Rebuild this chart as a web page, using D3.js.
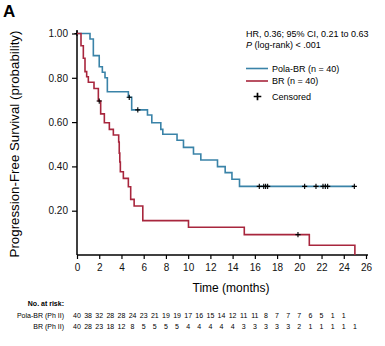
<!DOCTYPE html>
<html>
<head>
<meta charset="utf-8">
<script src="https://cdn.jsdelivr.net/npm/d3@7"></script>
<style>
	body { margin: 0; background: #fff; }
	svg { font-family: "Liberation Sans", Arial, sans-serif; }
</style>
</head>
<body>
<div id="chart"></div>
<script>
// Kaplan-Meier steps (time in months, survival after the step)
var polaTimes = [0, 1.17, 1.47, 2.0, 2.28, 2.52, 2.73, 4.62, 4.92, 6.34, 6.73, 7.54, 7.72, 9.0, 9.58, 10.48, 11.14, 12.64, 13.33, 13.94, 14.62, 25];
var polaSurv  = [1, 0.975, 0.90, 0.85, 0.825, 0.80, 0.737, 0.712, 0.655, 0.632, 0.597, 0.567, 0.545, 0.518, 0.486, 0.456, 0.429, 0.399, 0.372, 0.342, 0.31, 0.31];
var polaCensT = [0, 4.7, 5.47, 16.4, 16.8, 16.97, 17.15, 20.48, 21.5, 22.13, 22.34, 22.55, 24.95];

var brTimes = [0, 0.36, 0.57, 0.72, 0.87, 1.02, 1.53, 1.92, 2.13, 2.46, 2.91, 3.27, 3.75, 3.8, 3.85, 3.9, 4.17, 4.62, 4.83, 5.14, 5.92, 10.03, 15.05, 20.9, 25];
var brSurv  = [1, 0.945, 0.888, 0.828, 0.805, 0.78, 0.752, 0.695, 0.637, 0.597, 0.567, 0.542, 0.51, 0.46, 0.42, 0.376, 0.346, 0.308, 0.251, 0.221, 0.155, 0.125, 0.092, 0.044, 0];
var brCensT = [2.0, 19.88];

var xTicks = d3.range(0, 27, 2);
var yTicks = [0.2, 0.4, 0.6, 0.8, 1.0];

var riskPola = [40, 38, 32, 28, 28, 24, 23, 21, 19, 19, 17, 16, 15, 14, 12, 11, 11, 8, 7, 7, 7, 6, 5, 1, 1];
var riskBR   = [40, 28, 23, 18, 12, 8, 5, 5, 5, 5, 4, 4, 4, 4, 4, 3, 3, 3, 3, 3, 2, 1, 1, 1, 1, 1];

var blue = '#3a83a8';
var red = '#a8263d';

var chart = {
	svg : null,
	x : null,
	y : null,
	init : function(elem){
		this.svg = d3.select(elem).append('svg')
			.attr('width', 385)
			.attr('height', 346);
		this.x = d3.scaleLinear().domain([0, 26]).range([77, 366]);
		this.y = d3.scaleLinear().domain([0, 1]).range([255, 33.5]);
		this.drawAxes();
		this.drawCurve(polaTimes, polaSurv, polaCensT, blue);
		this.drawCurve(brTimes, brSurv, brCensT, red);
		this.drawText();
		this.drawRisk();
	},
	stepAt : function(times, surv, t){
		var i = d3.bisectRight(times, t) - 1;
		return surv[Math.max(i, 0)];
	},
	plus : function(g, cx, cy, r, w){
		g.append('path')
			.attr('d', 'M' + (cx - r) + ',' + cy + 'H' + (cx + r) + 'M' + cx + ',' + (cy - r) + 'V' + (cy + r))
			.attr('stroke', '#000')
			.attr('stroke-width', w)
			.attr('fill', 'none');
	},
	drawAxes : function(){
		var _self = this;
		var xAxis = d3.axisBottom(this.x).tickValues(xTicks).tickSize(4).tickPadding(5).tickFormat(d3.format('d'));
		var gx = this.svg.append('g').attr('transform', 'translate(0,255)').call(xAxis);
		gx.select('.domain').attr('d', 'M77,0H368').attr('stroke-width', 1.5);

		var yAxis = d3.axisLeft(this.y).tickValues(yTicks).tickSize(5).tickPadding(4).tickFormat(d3.format('.2f'));
		var gy = this.svg.append('g').attr('transform', 'translate(77,0)').call(yAxis);
		gy.select('.domain').attr('d', 'M0,30V255').attr('stroke-width', 1.5);

		[gx, gy].forEach(function(g){
			g.selectAll('text').attr('font-size', 10).attr('fill', '#111').attr('font-family', null);
			g.selectAll('.tick line').attr('stroke-width', 1.2);
		});
	},
	drawCurve : function(times, surv, cens, color){
		var _self = this;
		var pts = times.map(function(t, i){ return [t, surv[i]]; });
		var line = d3.line()
			.x(function(d){ return _self.x(d[0]); })
			.y(function(d){ return _self.y(d[1]); })
			.curve(d3.curveStepAfter);
		this.svg.append('path')
			.datum(pts)
			.attr('d', line)
			.attr('fill', 'none')
			.attr('stroke', color)
			.attr('stroke-width', 1.6);

		var g = this.svg.append('g');
		cens.forEach(function(t){
			_self.plus(g, _self.x(t), _self.y(_self.stepAt(times, surv, t)), 2.6, 1.1);
		});
	},
	drawText : function(){
		var svg = this.svg;
		svg.append('text').attr('x', 3).attr('y', 17)
			.attr('font-size', 17).attr('font-weight', 'bold').text('A');

		svg.append('text')
			.attr('transform', 'translate(19,144) rotate(-90)')
			.attr('text-anchor', 'middle')
			.attr('font-size', 13.3)
			.text('Progression-Free Survival (probability)');

		svg.append('text').attr('x', 231).attr('y', 292)
			.attr('text-anchor', 'middle').attr('font-size', 12)
			.text('Time (months)');

		svg.append('text').attr('x', 246).attr('y', 37).attr('font-size', 9)
			.text('HR, 0.36; 95% CI, 0.21 to 0.63');
		var p = svg.append('text').attr('x', 246).attr('y', 48).attr('font-size', 9);
		p.append('tspan').attr('font-style', 'italic').text('P');
		p.append('tspan').text(' (log-rank) < .001');

		var legend = [
			{ text : 'Pola-BR (n = 40)', color : blue, y : 68.5 },
			{ text : 'BR (n = 40)', color : red, y : 81 }
		];
		legend.forEach(function(d){
			svg.append('line').attr('x1', 246).attr('x2', 268)
				.attr('y1', d.y).attr('y2', d.y)
				.attr('stroke', d.color).attr('stroke-width', 1.6);
			svg.append('text').attr('x', 272).attr('y', d.y + 3.3)
				.attr('font-size', 9).text(d.text);
		});
		this.plus(svg.append('g'), 257.5, 96.5, 3.8, 1.7);
		svg.append('text').attr('x', 272).attr('y', 100).attr('font-size', 9).text('Censored');
	},
	drawRisk : function(){
		var _self = this;
		var svg = this.svg;
		svg.append('text').attr('x', 64).attr('y', 306)
			.attr('text-anchor', 'end').attr('font-size', 7).attr('font-weight', 'bold')
			.text('No. at risk:');
		var rows = [
			{ label : 'Pola-BR (Ph II)', values : riskPola, y : 317.5 },
			{ label : 'BR (Ph II)', values : riskBR, y : 328.5 }
		];
		rows.forEach(function(r){
			svg.append('text').attr('x', 64).attr('y', r.y)
				.attr('text-anchor', 'end').attr('font-size', 7).text(r.label);
			svg.append('g').selectAll('text')
				.data(r.values)
				.enter()
				.append('text')
				.attr('x', function(d, i){ return _self.x(i); })
				.attr('y', r.y)
				.attr('text-anchor', 'middle')
				.attr('font-size', 7)
				.text(function(d){ return d; });
		});
	}
};

chart.init('#chart');
</script>
</body>
</html>
